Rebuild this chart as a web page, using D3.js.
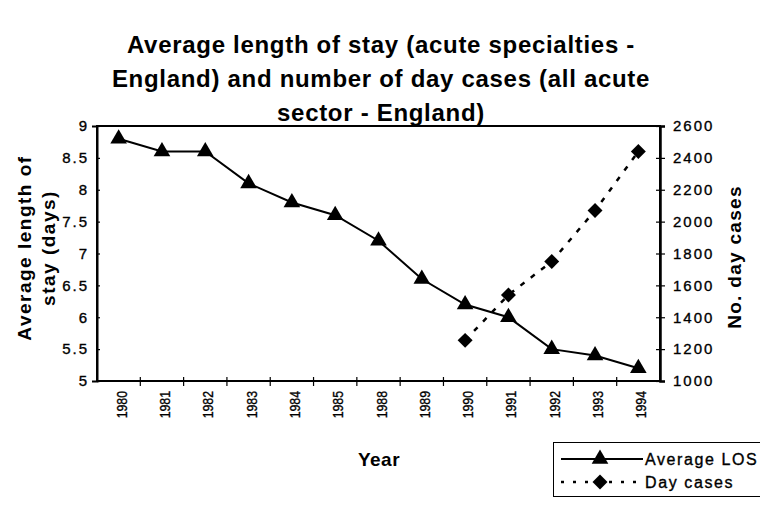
<!DOCTYPE html>
<html>
<head>
<meta charset="utf-8">
<script src="https://cdn.jsdelivr.net/npm/d3@7"></script>
<style>
  body { margin: 0; background: #fff; }
  text { font-family: "Liberation Sans", Arial, sans-serif; fill: #000; }
  .heavy { stroke: #000; stroke-width: 0.35px; }
</style>
</head>
<body>
<script>
// data
var years = ["1980","1981","1982","1983","1984","1985","1988","1989","1990","1991","1992","1993","1994"];
var avgLos = [8.8, 8.6, 8.6, 8.1, 7.8, 7.6, 7.2, 6.6, 6.2, 6.0, 5.5, 5.4, 5.2];
var dayYears = ["1990","1991","1992","1993","1994"];
var dayCases = [1255, 1540, 1750, 2070, 2440];
var losTicks = [5, 5.5, 6, 6.5, 7, 7.5, 8, 8.5, 9];
var dayTicks = [1000, 1200, 1400, 1600, 1800, 2000, 2200, 2400, 2600];
var titleLines = ["Average length of stay (acute specialties -",
                  "England) and number of day cases (all acute",
                  "sector - England)"];

var W = 760, H = 507;
var plot = {left: 97, right: 660, top: 126, bottom: 381};

var svg = d3.select("body").append("svg")
    .attr("width", W)
    .attr("height", H);

var xScale = d3.scaleBand()
    .domain(years)
    .range([plot.left, plot.right]);

var yLeft = d3.scaleLinear()
    .domain([5, 9])
    .range([plot.bottom, plot.top]);

var yRight = d3.scaleLinear()
    .domain([1000, 2600])
    .range([plot.bottom, plot.top]);

// title
svg.append("g").selectAll("text")
    .data(titleLines)
    .enter()
    .append("text")
    .attr("x", 381)
    .attr("y", function(d, i) { return 53 + i * 34; })
    .attr("text-anchor", "middle")
    .style("font-size", "24px")
    .style("font-weight", "bold")
    .style("letter-spacing", "0.7px")
    .text(function(d) { return d; });

// frame
svg.append("rect")
    .attr("x", plot.left)
    .attr("y", plot.top)
    .attr("width", plot.right - plot.left)
    .attr("height", plot.bottom - plot.top)
    .attr("fill", "none")
    .attr("stroke", "#000")
    .attr("stroke-width", 2);

// left axis
var leftAxis = svg.append("g")
    .attr("transform", "translate(" + plot.left + ",0)")
    .call(d3.axisLeft(yLeft).tickValues(losTicks).tickFormat(d3.format("")).tickSize(5).tickPadding(3));
leftAxis.select(".domain").attr("stroke-width", 2);
leftAxis.selectAll(".tick line").attr("x2", 3).attr("stroke-width", 1.2);
leftAxis.selectAll(".tick text")
    .attr("class", "heavy")
    .style("font-size", "15px")
    .style("letter-spacing", "2px")
    .attr("font-family", null);

// right axis
var rightAxis = svg.append("g")
    .attr("transform", "translate(" + plot.right + ",0)")
    .call(d3.axisRight(yRight).tickValues(dayTicks).tickFormat(d3.format("")).tickSize(5).tickPadding(8));
rightAxis.select(".domain").attr("stroke-width", 2.5);
rightAxis.selectAll(".tick line").attr("x1", -4).attr("stroke-width", 1.2);
rightAxis.selectAll(".tick text")
    .attr("class", "heavy")
    .style("font-size", "15px")
    .style("letter-spacing", "2px")
    .attr("font-family", null);

// bottom axis: ticks on category boundaries, rotated labels
var bottom = svg.append("g");
bottom.selectAll("line")
    .data(years.slice(1))
    .enter()
    .append("line")
    .attr("x1", function(d) { return xScale(d); })
    .attr("x2", function(d) { return xScale(d); })
    .attr("y1", plot.bottom - 4)
    .attr("y2", plot.bottom + 5)
    .attr("stroke", "#000")
    .attr("stroke-width", 1.2);
bottom.selectAll("text")
    .data(years)
    .enter()
    .append("text")
    .attr("class", "heavy")
    .attr("transform", function(d) {
        return "translate(" + (xScale(d) + xScale.bandwidth() / 2 + 8) + "," + (plot.bottom + 10) + ") rotate(-90) scale(0.82,1)";
    })
    .attr("text-anchor", "end")
    .style("font-size", "15px")
    .text(function(d) { return d; });

// axis titles
svg.append("text")
    .attr("x", 379)
    .attr("y", 466)
    .attr("text-anchor", "middle")
    .style("font-size", "19px")
    .style("font-weight", "bold")
    .style("letter-spacing", "0.5px")
    .text("Year");

var leftTitle = svg.append("text")
    .attr("transform", "translate(31,248) rotate(-90)")
    .attr("text-anchor", "middle")
    .style("font-size", "19px")
    .style("font-weight", "bold")
    .style("letter-spacing", "1.5px");
leftTitle.append("tspan").attr("x", 0).attr("dy", 0).text("Average length of");
leftTitle.append("tspan").attr("x", 0).attr("dy", 24).text("stay (days)");

svg.append("text")
    .attr("transform", "translate(741,257) rotate(-90)")
    .attr("text-anchor", "middle")
    .style("font-size", "19px")
    .style("font-weight", "bold")
    .style("letter-spacing", "1.3px")
    .text("No. day cases");

// series
var losData = years.map(function(y, i) { return {year: y, v: avgLos[i]}; });
var dayData = dayYears.map(function(y, i) { return {year: y, v: dayCases[i]}; });
function cx(d) { return xScale(d.year) + xScale.bandwidth() / 2; }

svg.append("path")
    .datum(losData)
    .attr("fill", "none")
    .attr("stroke", "#000")
    .attr("stroke-width", 2)
    .attr("d", d3.line().x(cx).y(function(d) { return yLeft(d.v); }));

svg.append("path")
    .datum(dayData)
    .attr("fill", "none")
    .attr("stroke", "#000")
    .attr("stroke-width", 2.5)
    .attr("stroke-dasharray", "5,8")
    .attr("d", d3.line().x(cx).y(function(d) { return yRight(d.v); }));

var triangle = d3.symbol().type(d3.symbolTriangle).size(120);
var diamond = d3.symbol().type(d3.symbolSquare).size(112);

svg.append("g").selectAll("path")
    .data(losData)
    .enter()
    .append("path")
    .attr("d", triangle)
    .attr("transform", function(d) { return "translate(" + cx(d) + "," + yLeft(d.v) + ")"; })
    .attr("fill", "#000");

svg.append("g").selectAll("path")
    .data(dayData)
    .enter()
    .append("path")
    .attr("d", diamond)
    .attr("transform", function(d) { return "translate(" + cx(d) + "," + yRight(d.v) + ") rotate(45)"; })
    .attr("fill", "#000");

// legend
var legend = svg.append("g");
legend.append("rect")
    .attr("x", 553.5)
    .attr("y", 442.5)
    .attr("width", 220)
    .attr("height", 54)
    .attr("fill", "#fff")
    .attr("stroke", "#000")
    .attr("stroke-width", 1);

var legendItems = [
    {label: "Average LOS", dash: null, width: 2, sym: triangle, rot: 0},
    {label: "Day cases", dash: "3,9", width: 2.5, sym: diamond, rot: 45}
];
var rows = legend.selectAll("g.item")
    .data(legendItems)
    .enter()
    .append("g")
    .attr("class", "item")
    .attr("transform", function(d, i) { return "translate(0," + (459 + i * 23) + ")"; });
rows.append("line")
    .attr("x1", 561).attr("x2", 643)
    .attr("y1", 0).attr("y2", 0)
    .attr("stroke", "#000")
    .attr("stroke-width", function(d) { return d.width; })
    .attr("stroke-dasharray", function(d) { return d.dash; });
rows.append("path")
    .attr("d", function(d) { return d.sym(); })
    .attr("transform", function(d) { return "translate(600,0) rotate(" + d.rot + ")"; })
    .attr("fill", "#000");
rows.append("text")
    .attr("class", "heavy")
    .attr("x", 645)
    .attr("y", 5.5)
    .style("font-size", "16px")
    .style("letter-spacing", "1.6px")
    .text(function(d) { return d.label; });
</script>
</body>
</html>
